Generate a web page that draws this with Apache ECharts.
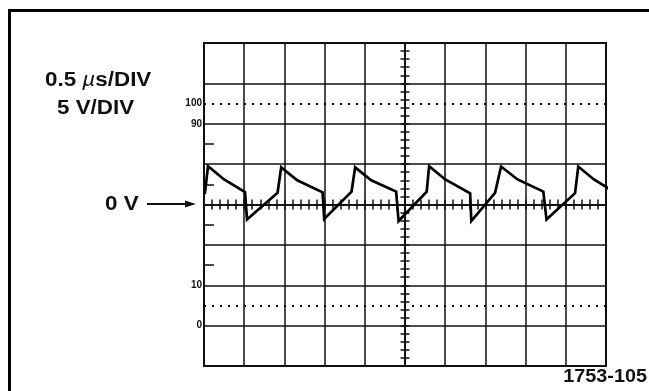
<!DOCTYPE html>
<html><head><meta charset="utf-8">
<script src="https://cdn.jsdelivr.net/npm/echarts@6/dist/echarts.min.js"></script>
<style>html,body{margin:0;padding:0;background:#fff}#c{width:649px;height:391px}</style>
</head><body><div id="c"></div>
<script>
// Trace vertices: time (µs from the graticule centre) and voltage (V)
const traceTime = [-2.49, -2.45, -2.25, -1.99, -1.965, -1.955, -1.585, -1.54, -1.34, -1.025, -1.005, -0.665, -0.62, -0.42, -0.11, -0.08, 0.27, 0.30, 0.50, 0.81, 0.825, 1.12, 1.195, 1.40, 1.72, 1.76, 2.115, 2.155, 2.35, 2.56];
const traceVolts = [1.3, 4.75, 3.1, 1.55, -1.85, -1.9, 1.45, 4.6, 3.0, 1.5, -1.8, 1.6, 4.6, 3.0, 1.6, -2.05, 1.6, 4.75, 3.1, 1.4, -2.05, 1.45, 4.7, 3.1, 1.6, -1.85, 1.4, 4.7, 3.1, 1.8];
const timeRange = [-2.5, 2.5];
const timePerDiv = 0.5;
const timeMinorStep = 0.1;
const voltRange = [-20, 20];
const voltsPerDiv = 5;
const voltMinorStep = 1;
const refLevelVolts = [12.5, -12.5];
const graticuleLabelVolts = [12.5, 10, -10, -15];
const graticuleLabels = ['100', '90', '10', '0'];
const edgeTickVolts = [7.5, 2.5, -2.5, -7.5];
const sweepText = '0.5 \u00b5s/DIV';
const voltText = '5 V/DIV';
const zeroText = '0 V';
const figureId = '1753-105';

const ink = '#111';
const font = '"Liberation Sans", Arial, Helvetica, sans-serif';
const gridLine = { color: ink, width: 1.5 };

function tickXAxis(inside) {
  return {
    type: 'value', min: timeRange[0], max: timeRange[1], interval: timeMinorStep, position: 'bottom',
    axisLine: { show: true, onZero: true, onZeroAxisIndex: 0, lineStyle: gridLine },
    axisTick: { show: true, inside: inside, length: 5, lineStyle: { color: ink, width: 1.5 } },
    axisLabel: { show: false }, splitLine: { show: false }
  };
}
function tickYAxis(inside) {
  return {
    type: 'value', min: voltRange[0], max: voltRange[1], interval: voltMinorStep, position: 'left',
    axisLine: { show: true, onZero: true, onZeroAxisIndex: 0, lineStyle: gridLine },
    axisTick: { show: true, inside: inside, length: 4.5, lineStyle: { color: ink, width: 1.5 } },
    axisLabel: { show: false }, splitLine: { show: false }
  };
}
function labelStyle(text, size, weight) {
  return { text: text, fontSize: size, fontWeight: weight, fontFamily: font, fill: ink, textAlign: 'left', textVerticalAlign: 'middle' };
}

const sweepStyle = labelStyle(sweepText.replace('\u00b5', '{mu|\u00b5}'), 20, 'bold');
sweepStyle.rich = { mu: { fontStyle: 'italic', fontWeight: 'normal', fontSize: 20, fontFamily: font, fill: ink } };

const chart = echarts.init(document.getElementById('c'), null, { renderer: 'canvas' });
chart.setOption({
  animation: false,
  backgroundColor: '#fff',
  grid: { left: 204, top: 43, width: 402, height: 323, show: true, borderColor: ink, borderWidth: 2, backgroundColor: 'transparent' },
  xAxis: [
    {
      type: 'value', min: timeRange[0], max: timeRange[1], interval: timePerDiv,
      axisLine: { show: false, onZero: false }, axisTick: { show: false }, axisLabel: { show: false },
      splitLine: { show: true, lineStyle: gridLine }
    },
    tickXAxis(false),
    tickXAxis(true)
  ],
  yAxis: [
    {
      type: 'value', min: voltRange[0], max: voltRange[1], interval: voltsPerDiv,
      axisLine: { show: false, onZero: false }, axisTick: { show: false }, axisLabel: { show: false },
      splitLine: { show: true, lineStyle: gridLine }
    },
    tickYAxis(false),
    tickYAxis(true),
    {
      type: 'value', min: voltRange[0], max: voltRange[1], interval: voltsPerDiv, position: 'left',
      axisLine: { show: false, onZero: false },
      axisTick: { show: true, inside: true, length: 10, customValues: edgeTickVolts, lineStyle: { color: ink, width: 1.5 } },
      axisLabel: {
        show: true, customValues: graticuleLabelVolts, margin: 2,
        formatter: v => graticuleLabels[graticuleLabelVolts.indexOf(v)] || '',
        fontSize: 10, fontWeight: 'bold', color: ink, fontFamily: font
      },
      splitLine: { show: false }
    }
  ],
  series: [{
    type: 'line',
    xAxisIndex: 0, yAxisIndex: 0,
    data: traceTime.map((t, i) => [t, traceVolts[i]]),
    showSymbol: false, symbol: 'none', clip: false, z: 10,
    lineStyle: { color: '#000', width: 2.7, join: 'miter' },
    markLine: {
      silent: true, symbol: 'none', label: { show: false },
      lineStyle: { type: [2, 6], color: '#000', width: 2 },
      data: refLevelVolts.map(v => ({ yAxis: v }))
    }
  }],
  graphic: [
    { type: 'rect', shape: { x: 9.5, y: 10.5, width: 720, height: 520 }, style: { fill: 'none', stroke: '#000', lineWidth: 3 }, silent: true },
    { type: 'text', x: 45, y: 80, scaleX: 1.12, style: sweepStyle },
    { type: 'text', x: 57, y: 108, scaleX: 1.12, style: labelStyle(voltText, 20, 'bold') },
    { type: 'text', x: 105, y: 204, scaleX: 1.12, style: labelStyle(zeroText, 20, 'bold') },
    { type: 'line', shape: { x1: 147, y1: 204, x2: 188, y2: 204 }, style: { stroke: ink, lineWidth: 2 } },
    { type: 'polygon', shape: { points: [[185, 200.5], [196, 204], [185, 207.5]] }, style: { fill: ink } },
    { type: 'text', x: 647, y: 377, scaleX: 1.1, style: Object.assign(labelStyle(figureId, 18, 'bold'), { textAlign: 'right' }) }
  ]
});
</script></body></html>
